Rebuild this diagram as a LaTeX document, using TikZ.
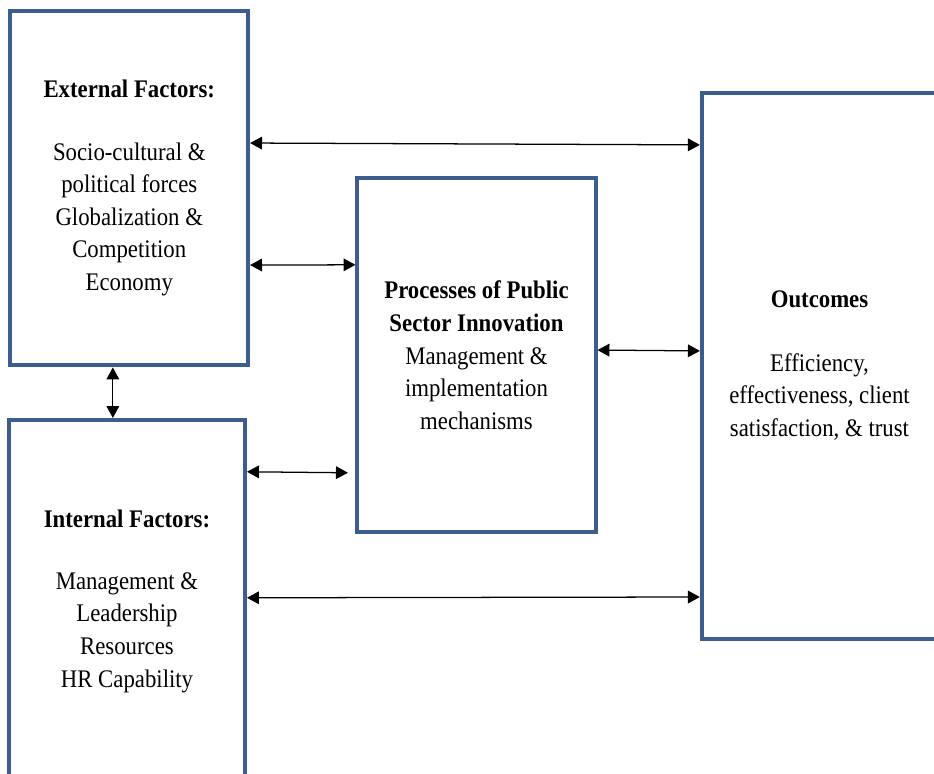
\documentclass[tikz,border=0pt]{standalone}
\usepackage{fontspec}
\setmainfont[FakeStretch=0.9]{Liberation Serif}
\usepackage{xcolor}
\definecolor{frame}{HTML}{3B5E8F}
\usepackage{tikz}
\usetikzlibrary{arrows.meta, positioning}

\begin{document}
\begin{tikzpicture}[x=0.025cm, y=0.025cm,
    bx/.style={rectangle, draw=frame, line width=2.85pt, fill=white,
               align=center, inner sep=0pt, outer sep=0pt,
               font=\fontsize{18}{23.2}\selectfont},
    a/.style={{Triangle[length=8.5pt,width=9pt]}-{Triangle[length=8.5pt,width=9pt]},
              draw=black, line width=0.9pt, shorten <=1.4pt, shorten >=1.4pt}]
  \useasboundingbox (0,0) rectangle (934,774);
  \clip (0,0) rectangle (934,774);
  \node[bx, minimum width=5.94cm, minimum height=8.86cm] (ext) at (129.25,585.75)
    {\textbf{External Factors:}\\[21pt]Socio-cultural \&\\political forces\\Globalization \&\\Competition\\Economy};
  \node[bx, minimum width=5.90cm, minimum height=9.05cm] (int) at (127,173)
    {\textbf{Internal Factors:}\\[21pt]Management \&\\Leadership\\Resources\\HR Capability};
  \node[bx, minimum width=5.95cm, minimum height=8.84cm] (proc) at (476.5,418.75)
    {\textbf{Processes of Public}\\\textbf{Sector Innovation}\\Management \&\\implementation\\mechanisms};
  \node[bx, minimum width=5.88cm, minimum height=13.64cm] (out) at (819.5,408.25)
    {\textbf{Outcomes}\\[22pt]Efficiency,\\effectiveness, client\\satisfaction, \& trust};
  \draw[a] ([yshift=1.13cm]ext.east) -- ([yshift=5.52cm]out.west);
  \draw[a] ([yshift=-1.92cm]ext.east) -- ([yshift=2.26cm]proc.west);
  \draw[a] ([yshift=0.13cm]proc.east) -- ([yshift=0.37cm]out.west);
  \draw[a] ([xshift=-0.41cm]ext.south) -- ([xshift=-0.41cm]ext.south |- int.north);
  \draw[a, shorten >=6.8pt] ([yshift=3.23cm]int.east) -- ([yshift=-2.94cm]proc.west);
  \draw[a] ([yshift=0.08cm]int.east) -- ([yshift=-5.78cm]out.west);
\end{tikzpicture}
\end{document}
